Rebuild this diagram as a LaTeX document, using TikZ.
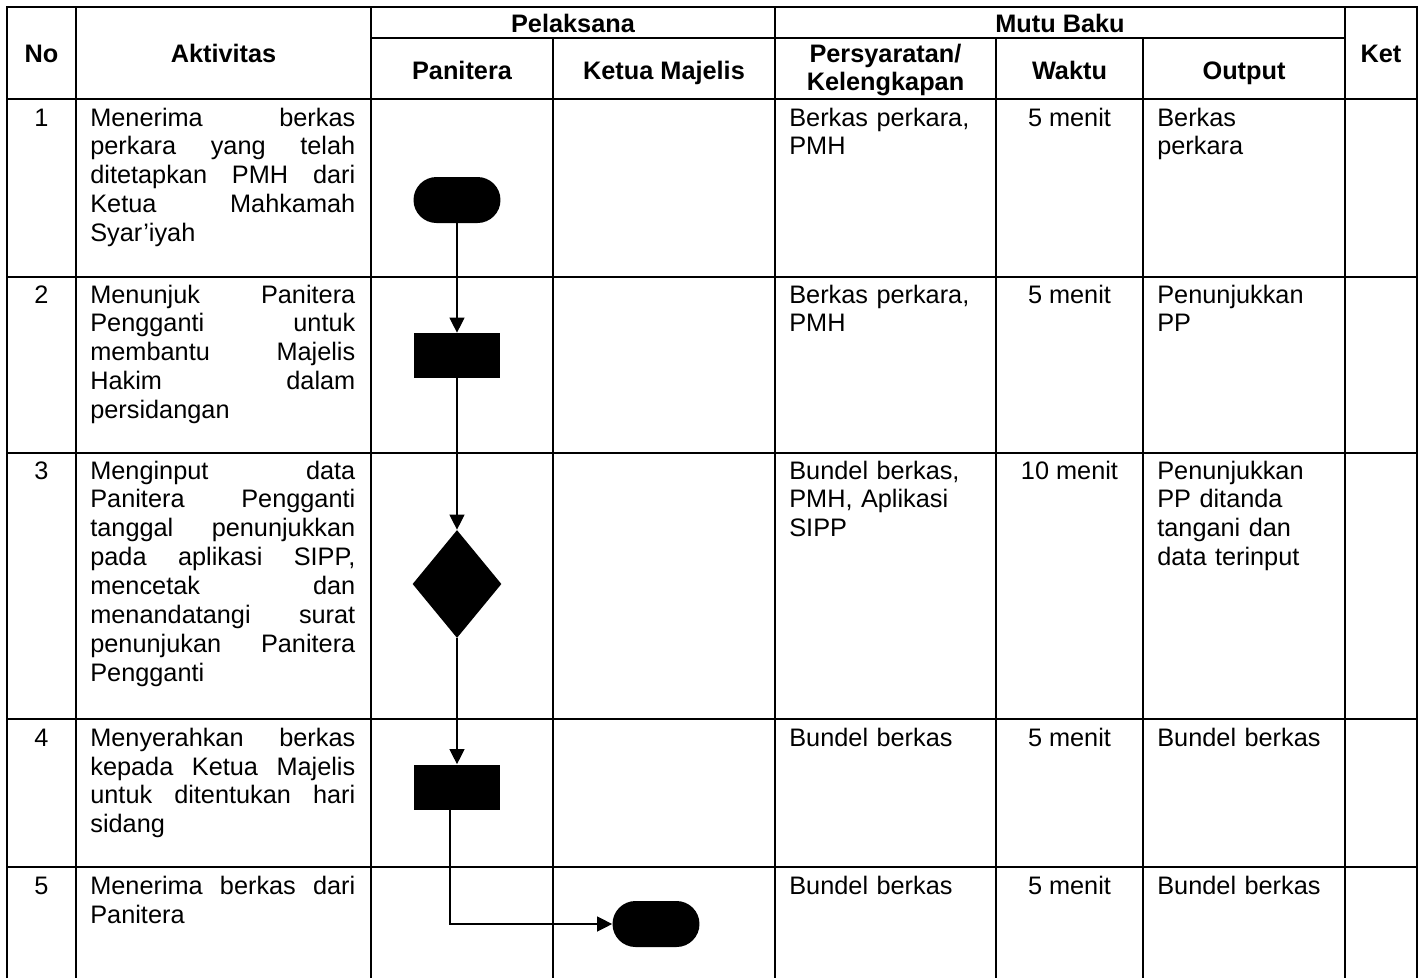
\documentclass[tikz,border=0pt]{standalone}
\usepackage{fontspec}
\setmainfont{Liberation Sans}
\usetikzlibrary{shapes.misc,shapes.geometric,arrows.meta}

\newcommand{\ukuranteks}{\fontsize{14.4pt}{16.5pt}\selectfont}

\tikzset{
  garis/.style={line width=1.1pt},
  terminal/.style={rounded rectangle, fill=black, minimum width=1.74cm, minimum height=0.92cm, inner sep=0pt},
  proses/.style={rectangle, fill=black, minimum width=1.74cm, minimum height=0.9cm, inner sep=0pt},
  keputusan/.style={diamond, fill=black, minimum width=1.78cm, minimum height=2.16cm, inner sep=0pt},
  alur/.style={-{Triangle[length=0.3cm,width=0.3cm]}, line width=0.7pt},
  judul/.style={anchor=base, font=\ukuranteks\bfseries},
  isi/.style={anchor=base west, text width=4cm, align=left, inner sep=0pt},
  kegiatan/.style={anchor=base west, text width=5.3cm, align=justify, inner sep=0pt},
}

\begin{document}
\begin{tikzpicture}[x=0.02cm, y=-0.02cm, font=\ukuranteks]
      \useasboundingbox (0,0) rectangle (1427,978);

      % garis tabel
      \draw[garis] (7,978) -- (7,7) -- (1417,7) -- (1417,978);
      \draw[garis] (371,38) -- (1345,38);
      \draw[garis] (7,99) -- (1417,99);
      \draw[garis] (7,277) -- (1417,277);
      \draw[garis] (7,453) -- (1417,453);
      \draw[garis] (7,719) -- (1417,719);
      \draw[garis] (7,867) -- (1417,867);
      \draw[garis] (76,7) -- (76,978);
      \draw[garis] (371,7) -- (371,978);
      \draw[garis] (553,38) -- (553,978);
      \draw[garis] (775,7) -- (775,978);
      \draw[garis] (996,38) -- (996,978);
      \draw[garis] (1143,38) -- (1143,978);
      \draw[garis] (1345,7) -- (1345,978);

      % kepala tabel
      \node[judul] (hNo) at (41.5,62) {No};
      \node[judul] (hAkt) at (223.5,62) {Aktivitas};
      \node[judul] (hPel) at (573,32) {Pelaksana};
      \node[judul] (hMutu) at (1060,32) {Mutu Baku};
      \node[judul] (hPan) at (462,79) {Panitera};
      \node[judul] (hKetua) at (664,79) {Ketua Majelis};
      \node[judul, text width=4cm, align=center] (hSyarat) at (885.5,62) {Persyaratan/\\Kelengkapan};
      \node[judul] (hWaktu) at (1069.5,79) {Waktu};
      \node[judul] (hOut) at (1244,79) {Output};
      \node[judul] (hKet) at (1381,62) {Ket};

      % baris 1
      \node[anchor=base] (no1) at (41.5,126) {1};
      \node[kegiatan] (akt1) at (90,126) {Menerima berkas\linebreak perkara yang telah\linebreak ditetapkan PMH dari\linebreak Ketua Mahkamah\linebreak Syar’iyah};
      \node[isi] (syarat1) at (789,126) {Berkas perkara,\\PMH};
      \node[anchor=base] (waktu1) at (1069.5,126) {5 menit};
      \node[isi] (out1) at (1157,126) {Berkas\\perkara};

      % baris 2
      \node[anchor=base] (no2) at (41.5,303) {2};
      \node[kegiatan] (akt2) at (90,303) {Menunjuk Panitera\linebreak Pengganti untuk\linebreak membantu Majelis\linebreak Hakim dalam\linebreak persidangan};
      \node[isi] (syarat2) at (789,303) {Berkas perkara,\\PMH};
      \node[anchor=base] (waktu2) at (1069.5,303) {5 menit};
      \node[isi] (out2) at (1157,303) {Penunjukkan\\PP};

      % baris 3
      \node[anchor=base] (no3) at (41.5,479) {3};
      \node[kegiatan] (akt3) at (90,479) {Menginput data\linebreak Panitera Pengganti\linebreak tanggal penunjukkan\linebreak pada aplikasi SIPP,\linebreak mencetak dan\linebreak menandatangi surat\linebreak penunjukan Panitera\linebreak Pengganti};
      \node[isi] (syarat3) at (789,479) {Bundel berkas,\\PMH, Aplikasi\\SIPP};
      \node[anchor=base] (waktu3) at (1069.5,479) {10 menit};
      \node[isi] (out3) at (1157,479) {Penunjukkan\\PP ditanda\\tangani dan\\data terinput};

      % baris 4
      \node[anchor=base] (no4) at (41.5,746) {4};
      \node[kegiatan] (akt4) at (90,746) {Menyerahkan berkas\linebreak kepada Ketua Majelis\linebreak untuk ditentukan hari\linebreak sidang};
      \node[isi] (syarat4) at (789,746) {Bundel berkas};
      \node[anchor=base] (waktu4) at (1069.5,746) {5 menit};
      \node[isi] (out4) at (1157,746) {Bundel berkas};

      % baris 5
      \node[anchor=base] (no5) at (41.5,894) {5};
      \node[kegiatan] (akt5) at (90,894) {Menerima berkas dari\linebreak Panitera};
      \node[isi] (syarat5) at (789,894) {Bundel berkas};
      \node[anchor=base] (waktu5) at (1069.5,894) {5 menit};
      \node[isi] (out5) at (1157,894) {Bundel berkas};

      % bagan alir
      \node[terminal] (mulai) at (457,200) {};
      \node[proses] (tunjuk) at (457,355.5) {};
      \node[keputusan] (input) at (457,584) {};
      \node[proses] (serah) at (457,787) {};
      \node[terminal] (selesai) at (656,924) {};

      \draw[alur] (mulai) -- (tunjuk);
      \draw[alur] (tunjuk) -- (input);
      \draw[alur] (input) -- (serah);
      \draw[alur] ([xshift=-0.14cm]serah.south) |- (selesai.west);
\end{tikzpicture}
\end{document}
